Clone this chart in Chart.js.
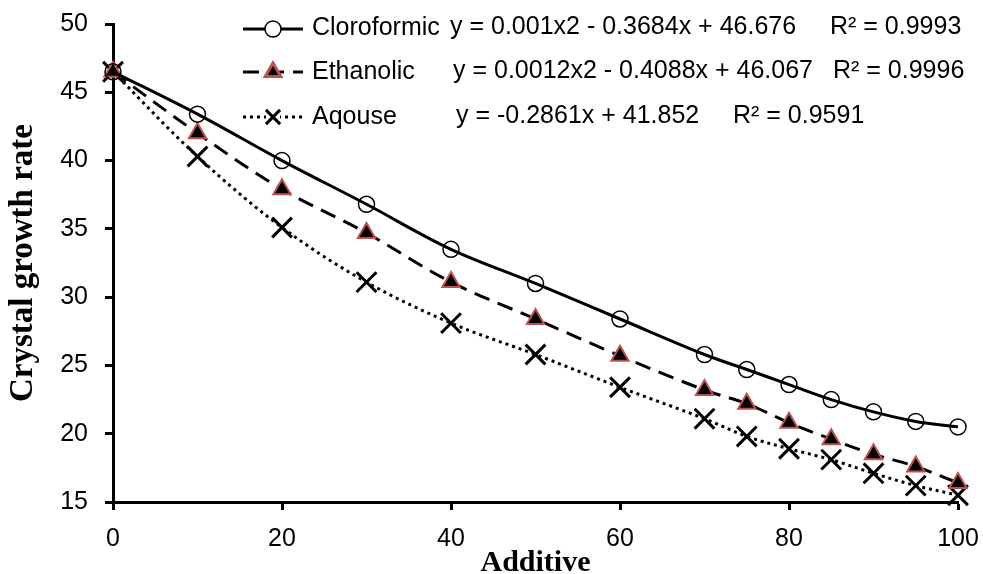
<!DOCTYPE html>
<html>
<head>
<meta charset="utf-8">
<script src="https://cdn.jsdelivr.net/npm/chart.js@4"></script>
<style>
  body { margin: 0; background: #fff; }
</style>
</head>
<body>
<canvas id="growthChart" width="983" height="574"></canvas>
<script>
// values
const additive = [0, 10, 20, 30, 40, 50, 60, 70, 75, 80, 85, 90, 95, 100];
const cloroformic = [46.5, 43.4, 40.0, 36.8, 33.5, 31.0, 28.4, 25.8, 24.7, 23.6, 22.5, 21.6, 20.9, 20.5];
const ethanolic = [46.5, 42.0, 37.9, 34.7, 31.1, 28.4, 25.7, 23.2, 22.2, 20.8, 19.6, 18.5, 17.6, 16.4];
const aqouse = [46.5, 40.3, 35.1, 31.1, 28.1, 25.8, 23.4, 21.1, 19.8, 18.9, 18.1, 17.1, 16.2, 15.5];

const seriesNames = ['Cloroformic', 'Ethanolic', 'Aqouse'];
const equations = [
  'y = 0.001x2 - 0.3684x + 46.676',
  'y = 0.0012x2 - 0.4088x + 46.067',
  'y = -0.2861x + 41.852'
];
const rSquared = ['R² = 0.9993', 'R² = 0.9996', 'R² = 0.9591'];

const toPoints = (ys) => additive.map((x, i) => ({ x: x, y: ys[i] }));

const legendPlugin = {
  id: 'trendLegend',
  afterDraw(chart) {
    const ctx = chart.ctx;
    const rows = [29, 72, 117];
    const baselines = [35, 79, 124];
    const eqX = [450, 453, 456];
    const rX = [830, 833, 733];
    ctx.save();
    chart.data.datasets.forEach((ds, i) => {
      const y = rows[i];
      ctx.strokeStyle = '#000';
      ctx.lineWidth = 3;
      ctx.setLineDash(ds.borderDash || []);
      ctx.beginPath();
      ctx.moveTo(243, y);
      ctx.lineTo(303, y);
      ctx.stroke();
      ctx.setLineDash([]);
      if (i === 0) {
        ctx.fillStyle = '#fff';
        ctx.strokeStyle = '#000';
        ctx.lineWidth = 1.5;
        ctx.beginPath();
        ctx.arc(273, y, 8, 0, Math.PI * 2);
        ctx.fill();
        ctx.stroke();
      } else {
        ctx.fillStyle = ds.pointBackgroundColor;
        ctx.strokeStyle = ds.pointBorderColor;
        if (i === 2) {
          ctx.fillStyle = '#fff';
          ctx.fillRect(266, y - 7, 14, 14);
        }
        Chart.helpers.drawPoint(ctx, {
          pointStyle: ds.pointStyle,
          radius: i === 1 ? 9 : 10,
          borderWidth: i === 1 ? 2 : 1.5
        }, 273, y);
      }
      ctx.fillStyle = '#000';
      ctx.font = '25px "Liberation Sans", Arial, sans-serif';
      ctx.textBaseline = 'alphabetic';
      ctx.fillText(seriesNames[i], 312, baselines[i]);
      ctx.fillText(equations[i], eqX[i], baselines[i] - 1);
      ctx.fillText(rSquared[i], rX[i], baselines[i] - 1);
    });
    ctx.restore();
  }
};

const ctx = document.getElementById('growthChart').getContext('2d');
new Chart(ctx, {
  type: 'line',
  data: {
    datasets: [
      {
        label: seriesNames[0],
        data: toPoints(cloroformic),
        borderColor: '#000',
        borderWidth: 3,
        tension: 0.35,
        pointStyle: 'circle',
        pointRadius: 8,
        pointBorderWidth: 1.5,
        pointBorderColor: '#000',
        pointBackgroundColor: 'rgba(255,255,255,0)',
        clip: false
      },
      {
        label: seriesNames[1],
        data: toPoints(ethanolic),
        borderColor: '#000',
        borderWidth: 3,
        borderDash: [16, 9],
        tension: 0.35,
        pointStyle: 'triangle',
        pointRadius: 10,
        pointBorderWidth: 2,
        pointBorderColor: '#c0504d',
        pointBackgroundColor: '#000',
        clip: false
      },
      {
        label: seriesNames[2],
        data: toPoints(aqouse),
        borderColor: '#000',
        borderWidth: 3,
        borderDash: [3, 4],
        tension: 0.35,
        pointStyle: 'crossRot',
        pointRadius: 14,
        pointBorderWidth: 3,
        pointBorderColor: '#000',
        pointBackgroundColor: '#000',
        clip: false
      }
    ]
  },
  options: {
    responsive: false,
    animation: false,
    layout: { padding: { top: 24, right: 25, left: 0, bottom: 0 } },
    plugins: {
      legend: { display: false },
      tooltip: { enabled: false }
    },
    scales: {
      x: {
        type: 'linear',
        min: 0,
        max: 100,
        ticks: {
          stepSize: 20,
          color: '#000',
          padding: 14,
          maxRotation: 0,
          font: { family: '"Liberation Sans", Arial, sans-serif', size: 25 }
        },
        grid: {
          drawOnChartArea: false,
          drawTicks: true,
          tickLength: 8,
          tickWidth: 3,
          tickColor: '#000'
        },
        border: { color: '#000', width: 3 },
        title: {
          display: true,
          text: 'Additive',
          color: '#000',
          padding: { top: 0, bottom: -7 },
          font: { family: '"Liberation Serif", "Times New Roman", serif', size: 30, weight: 'bold' }
        },
        afterFit: (scale) => {
          scale.height = 72;
          scale.paddingLeft = 0;
          scale.paddingRight = 0;
        }
      },
      y: {
        min: 15,
        max: 50,
        ticks: {
          stepSize: 5,
          color: '#000',
          padding: 17,
          font: { family: '"Liberation Sans", Arial, sans-serif', size: 25 }
        },
        grid: {
          drawOnChartArea: false,
          drawTicks: true,
          tickLength: 8,
          tickWidth: 3,
          tickColor: '#000'
        },
        border: { color: '#000', width: 3 },
        title: {
          display: true,
          text: 'Crystal growth rate',
          color: '#000',
          padding: { top: 4, bottom: 0 },
          font: { family: '"Liberation Serif", "Times New Roman", serif', size: 33, weight: 'bold' }
        },
        afterFit: (scale) => {
          scale.width = 113;
          scale.paddingTop = 0;
          scale.paddingBottom = 0;
        }
      }
    }
  },
  plugins: [legendPlugin]
});
</script>
</body>
</html>
